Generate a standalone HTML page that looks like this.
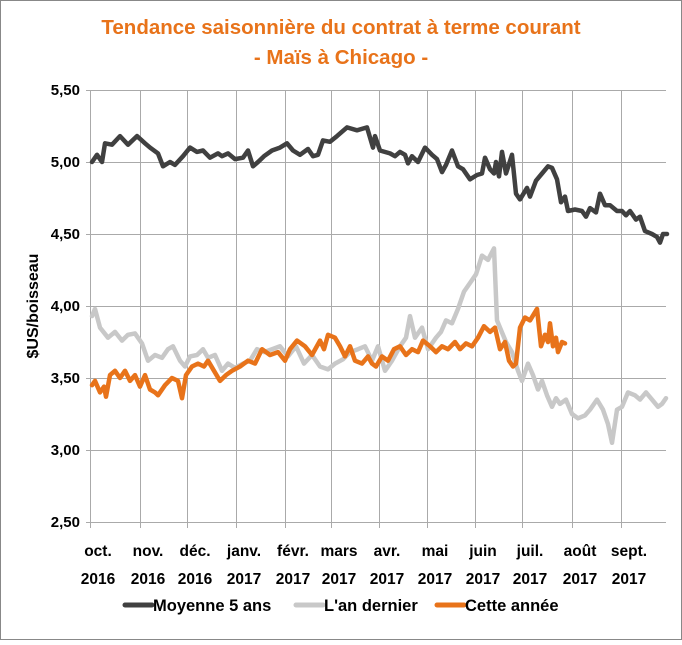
<!DOCTYPE html>
<html><head><meta charset="utf-8"><style>
html,body{margin:0;padding:0;background:#fff}
body{width:682px;height:640px;overflow:hidden}
svg text{font-family:"Liberation Sans",sans-serif;font-weight:bold}
</style></head><body>
<svg id="c" width="682" height="640" xmlns="http://www.w3.org/2000/svg">
<rect x="0.5" y="0.5" width="681" height="639" fill="#fff" stroke="#888"/>
<text x="341" y="34" text-anchor="middle" font-size="20.5" fill="#E8731A">Tendance saisonnière du contrat à terme courant</text>
<text x="341" y="64" text-anchor="middle" font-size="20.5" fill="#E8731A">- Maïs à Chicago -</text>
<g id="grid" stroke="#aaa" stroke-width="1"></g>
<g id="lab" fill="#000"></g>
<text transform="translate(38,306) rotate(-90)" text-anchor="middle" font-size="16" fill="#000">$US/boisseau</text>
<g id="series" fill="none" stroke-linejoin="round" stroke-linecap="round"></g>
<g font-size="16.5" fill="#000">
<line x1="125" y1="605" x2="152" y2="605" stroke="#404040" stroke-width="5" stroke-linecap="round"/>
<text x="153" y="611">Moyenne 5 ans</text>
<line x1="296" y1="605" x2="323" y2="605" stroke="#c8c8c8" stroke-width="5" stroke-linecap="round"/>
<text x="324" y="611">L'an dernier</text>
<line x1="437" y1="605" x2="464" y2="605" stroke="#E8731A" stroke-width="5" stroke-linecap="round"/>
<text x="465" y="611">Cette année</text>
</g>
</svg>
<script>
var NS="http://www.w3.org/2000/svg";
function el(p,t,a,txt){var e=document.createElementNS(NS,t);for(var k in a)e.setAttribute(k,a[k]);if(txt)e.textContent=txt;document.getElementById(p).appendChild(e);return e;}
function Y(v){return 90+(5.5-v)*144;}
var xs=[90,140,187,236,285,331,379,427,475,522,572,621];
var m=["oct.","nov.","déc.","janv.","févr.","mars","avr.","mai","juin","juil.","août","sept."];
var yr=["2016","2016","2016","2017","2017","2017","2017","2017","2017","2017","2017","2017"];
for(var i=0;i<xs.length;i++){
 el("grid","line",{x1:xs[i]+.5,y1:90,x2:xs[i]+.5,y2:528});
 el("lab","text",{x:xs[i]+8,y:556,"text-anchor":"middle","font-size":15.5},m[i]);
 el("lab","text",{x:xs[i]+8,y:584,"text-anchor":"middle","font-size":15.5},yr[i]);
}
var vals=[5.5,5,4.5,4,3.5,3,2.5];
for(var j=0;j<vals.length;j++){
 var y=Y(vals[j]);
 el("grid","line",{x1:86,y1:y+.5,x2:666,y2:y+.5});
 el("lab","text",{x:80,y:y+5,"text-anchor":"end","font-size":15},vals[j].toFixed(2).replace(".",","));
}
var dark=[[92,5.00],[97,5.05],[102,5.00],[105,5.13],[112,5.12],[120,5.18],[128,5.12],[137,5.18],[145,5.13],[150,5.10],[158,5.06],[163,4.97],[170,5.00],[175,4.98],[183,5.04],[190,5.10],[197,5.07],[203,5.08],[210,5.03],[218,5.06],[222,5.04],[228,5.06],[235,5.02],[243,5.03],[248,5.08],[253,4.97],[258,5.00],[264,5.04],[272,5.08],[280,5.10],[287,5.13],[293,5.08],[300,5.05],[308,5.09],[313,5.04],[318,5.05],[323,5.15],[330,5.14],[337,5.18],[347,5.24],[357,5.22],[367,5.24],[373,5.10],[375,5.18],[380,5.08],[390,5.06],[395,5.04],[400,5.07],[405,5.05],[408,4.99],[412,5.04],[418,5.00],[425,5.10],[432,5.05],[437,5.02],[442,4.93],[446,4.98],[452,5.08],[458,4.97],[463,4.95],[470,4.88],[477,4.91],[482,4.92],[485,5.03],[490,4.95],[494,4.92],[496,5.00],[499,4.90],[502,5.07],[506,4.92],[512,5.05],[516,4.78],[520,4.74],[527,4.82],[530,4.76],[536,4.87],[542,4.92],[548,4.97],[552,4.96],[557,4.88],[561,4.72],[565,4.76],[568,4.66],[575,4.67],[582,4.66],[586,4.62],[590,4.68],[596,4.65],[600,4.78],[605,4.70],[610,4.70],[617,4.66],[622,4.66],[626,4.63],[630,4.66],[636,4.60],[640,4.62],[645,4.52],[652,4.50],[657,4.48],[660,4.44],[663,4.50],[667,4.50]];
var gray=[[92,3.93],[95,3.98],[100,3.85],[108,3.78],[115,3.82],[122,3.76],[128,3.80],[135,3.81],[142,3.74],[148,3.62],[155,3.66],[162,3.64],[168,3.70],[173,3.72],[180,3.62],[185,3.58],[190,3.65],[197,3.66],[203,3.70],[208,3.64],[215,3.66],[222,3.55],[228,3.60],[235,3.57],[243,3.60],[250,3.62],[257,3.70],[264,3.68],[272,3.70],[280,3.72],[288,3.65],[296,3.72],[304,3.60],[312,3.66],[320,3.58],[328,3.56],[335,3.60],[343,3.63],[350,3.68],[358,3.70],[365,3.72],[372,3.62],[378,3.72],[385,3.55],[392,3.62],[400,3.72],[406,3.78],[410,3.93],[415,3.78],[422,3.85],[428,3.70],[436,3.78],[441,3.82],[446,3.90],[452,3.88],[458,3.98],[464,4.10],[470,4.16],[476,4.22],[482,4.35],[488,4.32],[494,4.40],[497,3.90],[500,3.85],[506,3.75],[512,3.68],[518,3.55],[522,3.48],[528,3.60],[533,3.52],[538,3.42],[542,3.48],[547,3.38],[552,3.30],[556,3.36],[560,3.32],[566,3.35],[572,3.25],[578,3.22],[585,3.24],[590,3.28],[597,3.35],[603,3.28],[608,3.18],[612,3.05],[617,3.28],[622,3.30],[628,3.40],[635,3.38],[640,3.35],[646,3.40],[652,3.35],[658,3.30],[662,3.32],[666,3.36]];
var org=[[92,3.45],[95,3.48],[100,3.40],[104,3.44],[106,3.37],[110,3.52],[115,3.55],[120,3.50],[125,3.55],[130,3.48],[135,3.52],[140,3.44],[145,3.52],[150,3.42],[155,3.40],[158,3.38],[165,3.45],[172,3.50],[178,3.48],[182,3.36],[186,3.52],[192,3.58],[198,3.60],[204,3.58],[208,3.62],[214,3.55],[220,3.48],[226,3.52],[232,3.55],[240,3.58],[248,3.62],[255,3.60],[262,3.70],[270,3.66],[278,3.68],[285,3.62],[290,3.70],[297,3.76],[305,3.72],[312,3.66],[320,3.76],[324,3.70],[328,3.80],[335,3.78],[340,3.72],[345,3.65],[350,3.72],[355,3.62],[362,3.60],[368,3.65],[372,3.60],[376,3.58],[382,3.65],[388,3.62],[394,3.70],[400,3.72],[406,3.66],[412,3.70],[418,3.68],[423,3.76],[430,3.72],[436,3.68],[442,3.72],[448,3.70],[455,3.75],[460,3.70],[466,3.74],[472,3.72],[478,3.78],[484,3.86],[490,3.82],[495,3.85],[500,3.70],[505,3.75],[509,3.62],[513,3.58],[516,3.60],[520,3.85],[525,3.92],[530,3.90],[537,3.98],[541,3.72],[545,3.80],[548,3.75],[550,3.88],[553,3.72],[556,3.78],[558,3.68],[562,3.75],[565,3.74]];
function draw(d,c){el("series","polyline",{points:d.map(function(p){return p[0]+","+Y(p[1]).toFixed(1)}).join(" "),stroke:c,"stroke-width":4.5});}
draw(dark,"#404040");draw(gray,"#c8c8c8");draw(org,"#E8731A");
</script>
</body></html>
